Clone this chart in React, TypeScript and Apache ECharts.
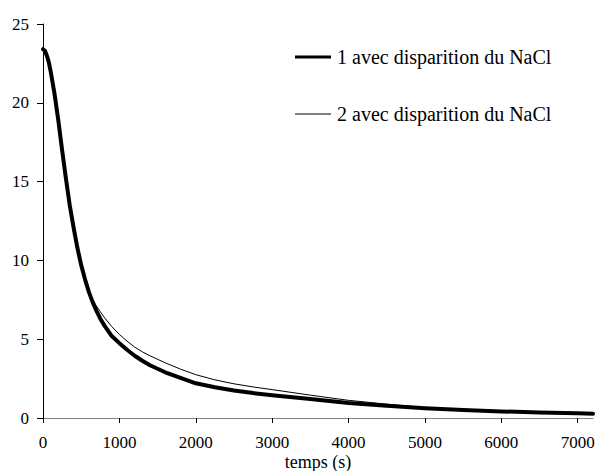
import React, { useEffect, useRef } from "react";
import * as echarts from "echarts";

const times = [0, 25, 50, 75, 100, 150, 200, 250, 300, 350, 400, 450, 500, 550, 600, 650, 700, 750, 800, 900, 1000, 1100, 1200, 1300, 1400, 1600, 1800, 2000, 2250, 2500, 2750, 3000, 3500, 4000, 4500, 5000, 5500, 6000, 6500, 7000, 7200];
const serie1 = [23.4, 23.3, 23.0, 22.6, 22.0, 20.6, 18.9, 17.0, 15.2, 13.5, 12.1, 10.8, 9.7, 8.8, 8.0, 7.35, 6.8, 6.3, 5.9, 5.2, 4.75, 4.33, 3.95, 3.63, 3.35, 2.9, 2.55, 2.2, 1.95, 1.75, 1.58, 1.45, 1.2, 0.95, 0.78, 0.62, 0.5, 0.42, 0.35, 0.3, 0.27];
const serie2 = [23.4, 23.3, 23.0, 22.6, 22.0, 20.6, 18.9, 17.0, 15.2, 13.5, 12.1, 10.8, 9.7, 8.8, 8.0, 7.5, 7.1, 6.75, 6.4, 5.8, 5.3, 4.88, 4.5, 4.2, 3.95, 3.5, 3.1, 2.75, 2.42, 2.17, 1.97, 1.8, 1.45, 1.12, 0.88, 0.66, 0.52, 0.42, 0.35, 0.3, 0.27];
const seriesNames = ["1 avec disparition du NaCl", "2 avec disparition du NaCl"];
const xTitle = "temps (s)";

const FONT = "Times New Roman, Liberation Serif, serif";

export default function App() {
  const ref = useRef<HTMLDivElement>(null);
  useEffect(() => {
    if (!ref.current) return;
    const chart = echarts.init(ref.current, null, { renderer: "svg" });
    const d1 = times.map((t, i) => [t, serie1[i]]);
    const d2 = times.map((t, i) => [t, serie2[i]]);
    chart.setOption({
      animation: false,
      backgroundColor: "#ffffff",
      textStyle: { fontFamily: FONT },
      grid: { left: 43, right: 4, top: 24, bottom: 53, containLabel: false, outerBoundsMode: "none" },
      xAxis: {
        type: "value",
        min: 0,
        max: 7200,
        interval: 1000,
        axisLine: { show: true, lineStyle: { color: "#808080", width: 1 } },
        axisTick: { show: true, inside: false, length: 5, lineStyle: { color: "#000" } },
        axisLabel: { fontFamily: FONT, fontSize: 17, color: "#000", margin: 16, showMaxLabel: false, formatter: (v: number) => String(v) },
        splitLine: { show: false },
      },
      yAxis: {
        type: "value",
        min: 0,
        max: 25,
        interval: 5,
        axisLine: { show: true, lineStyle: { color: "#000", width: 1 } },
        axisTick: { show: true, inside: false, length: 6, lineStyle: { color: "#000" } },
        axisLabel: { fontFamily: FONT, fontSize: 17, color: "#000", margin: 14, formatter: (v: number) => String(v) },
        splitLine: { show: false },
      },
      series: [
        {
          name: seriesNames[1],
          type: "line",
          data: d2,
          showSymbol: false,
          smooth: false,
          lineStyle: { color: "#000", width: 1 },
          z: 3,
        },
        {
          name: seriesNames[0],
          type: "line",
          data: d1,
          showSymbol: false,
          smooth: false,
          lineStyle: { color: "#000", width: 4, join: "round", cap: "round" },
          z: 2,
        },
      ],
      graphic: [
        { type: "line", shape: { x1: 295, y1: 57, x2: 331, y2: 57 }, style: { stroke: "#000", lineWidth: 3 } },
        { type: "text", x: 337, y: 57, style: { text: seriesNames[0], fontFamily: FONT, fontSize: 20, fill: "#000", verticalAlign: "middle" } },
        { type: "line", shape: { x1: 295, y1: 114, x2: 331, y2: 114 }, style: { stroke: "#000", lineWidth: 1 } },
        { type: "text", x: 337, y: 114, style: { text: seriesNames[1], fontFamily: FONT, fontSize: 20, fill: "#000", verticalAlign: "middle" } },
        { type: "text", x: 318, y: 462, style: { text: xTitle, fontFamily: FONT, fontSize: 18, fill: "#000", align: "center", verticalAlign: "middle" } },
      ],
    });
    return () => chart.dispose();
  }, []);
  return <div ref={ref} style={{ width: 597, height: 471, position: "absolute", left: 0, top: 0 }} />;
}
